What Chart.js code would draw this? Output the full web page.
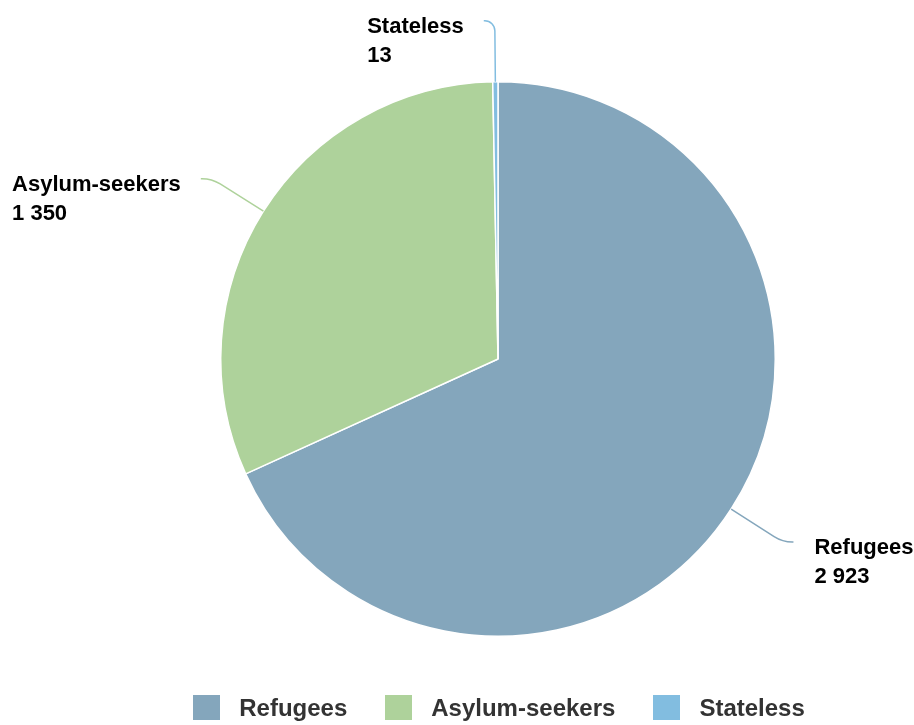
<!DOCTYPE html>
<html>
<head>
<meta charset="utf-8">
<script src="https://cdn.jsdelivr.net/npm/chart.js@4.4.0/dist/chart.umd.min.js"></script>
<style>
    html, body { margin: 0; padding: 0; background: #fff; }
    #wrap { position: relative; width: 914px; height: 725px; }
    #legend {
        position: absolute; left: 82px; top: 695px; width: 834px;
        display: flex; justify-content: center;
        font: bold 24px "Liberation Sans", Arial, sans-serif; color: #333;
    }
    .item { display: flex; align-items: center; margin: 0 19px; height: 25px; }
    .box { width: 27px; height: 25px; margin-right: 19px; }
</style>
</head>
<body>
<div id="wrap">
    <canvas id="chart"></canvas>
    <div id="legend"></div>
</div>
<script>
var CATEGORIES = ['Refugees', 'Asylum-seekers', 'Stateless'];
var VALUES = [2923, 1350, 13];
var COLORS = ['#84a6bc', '#aed29b', '#82bde0'];

// numero con spazio come separatore delle migliaia
function formatNumber(n) {
    return String(n).replace(/\B(?=(\d{3})+(?!\d))/g, ' ');
}

// etichette con linea di collegamento
var labelPlugin = {
    id: 'sliceLabels',
    afterDatasetsDraw: function (chart) {
        var ctx = chart.ctx;
        var meta = chart.getDatasetMeta(0);
        ctx.save();
        ctx.font = 'bold 22px "Liberation Sans", Arial, sans-serif';
        ctx.textBaseline = 'alphabetic';
        meta.data.forEach(function (arc, i) {
            var mid = (arc.startAngle + arc.endAngle) / 2;
            var r = arc.outerRadius;
            var R = r * 1.22;
            var cx = arc.x, cy = arc.y;
            var cos = Math.cos(mid), sin = Math.sin(mid);
            var side = cos >= 0 ? 1 : -1;
            var x0 = cx + cos * r, y0 = cy + sin * r;
            var dy = sin * R;
            var bx = cx + cos * R, by = cy + dy;
            var xe = cx + side * (Math.sqrt(Math.max(R * R - dy * dy, 0)) + 11);
            var ye = by;

            // raggio della curva in base all'angolo di piega
            var defl = Math.acos(Math.min(1, Math.abs(cos)));
            var t = Math.min(Math.abs(xe - bx) * 0.9, 20);
            var rad = t / Math.max(Math.tan(defl / 2), 0.01);

            ctx.strokeStyle = COLORS[i];
            ctx.lineWidth = 1.5;
            ctx.beginPath();
            ctx.moveTo(x0, y0);
            ctx.arcTo(bx, by, xe, ye, rad);
            ctx.lineTo(xe, ye);
            ctx.stroke();

            var l1 = CATEGORIES[i];
            var l2 = formatNumber(VALUES[i]);
            var w = Math.max(ctx.measureText(l1).width, ctx.measureText(l2).width);
            var tx = side > 0 ? xe + 21 : xe - 20 - w;
            ctx.fillStyle = '#000';
            ctx.textAlign = 'left';
            ctx.fillText(l1, tx, ye + 12);
            ctx.fillText(l2, tx, ye + 41);
        });
        ctx.restore();
    }
};

var myChart = new Chart(document.getElementById('chart'), {
    type: 'pie',
    data: {
        labels: CATEGORIES,
        datasets: [{
            data: VALUES,
            backgroundColor: COLORS,
            borderColor: '#ffffff',
            borderWidth: 1.5
        }]
    },
    options: {
        responsive: true,
        maintainAspectRatio: false,
        animation: false,
        layout: {
            padding: { top: 81, left: 120, right: 38, bottom: 88 }
        },
        plugins: {
            tooltip: { enabled: false },
            legend: { display: false }
        }
    },
    plugins: [labelPlugin]
});

// legenda
var legend = document.getElementById('legend');
CATEGORIES.forEach(function (name, i) {
    var item = document.createElement('div');
    item.className = 'item';
    var box = document.createElement('span');
    box.className = 'box';
    box.style.background = COLORS[i];
    var txt = document.createElement('span');
    txt.textContent = name;
    item.appendChild(box);
    item.appendChild(txt);
    legend.appendChild(item);
});
</script>
</body>
</html>
